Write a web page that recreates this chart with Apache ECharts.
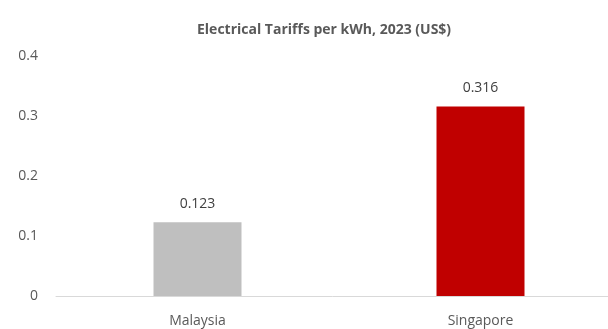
<!DOCTYPE html>
<html>
<head>
<meta charset="utf-8">
<script src="https://cdn.jsdelivr.net/npm/echarts@6/dist/echarts.min.js"></script>
<style>
  html, body { margin: 0; padding: 0; background: #fff; }
  #main { width: 608px; height: 329px; }
</style>
</head>
<body>
<div id="main"></div>
<script>
var countries = ['Malaysia', 'Singapore'];
var tariffs = [0.123, 0.316];
var barColors = ['#BFBFBF', '#C00000'];

var myChart = echarts.init(document.getElementById('main'));

myChart.setOption({
    animation: false,
    title: {
        text: 'Electrical Tariffs per kWh, 2023 (US$)',
        left: 192,
        top: 18,
        textStyle: {
            fontFamily: 'Open Sans',
            fontSize: 14,
            fontWeight: 'bold',
            color: '#595959'
        }
    },
    grid: {
        left: 56,
        width: 566,
        top: 56,
        bottom: 33,
        outerBoundsMode: 'none',   // let the axis run past the right edge
        containLabel: false
    },
    xAxis: {
        type: 'category',
        data: countries,
        axisLine: { lineStyle: { color: '#D9D9D9', width: 1 } },
        axisTick: { show: false },
        axisLabel: {
            margin: 18,
            fontFamily: 'Open Sans',
            fontSize: 14,
            color: '#595959'
        }
    },
    yAxis: {
        type: 'value',
        min: 0,
        max: 0.4,
        interval: 0.1,
        splitLine: { show: false },
        axisLine: { show: false },
        axisTick: { show: false },
        axisLabel: {
            margin: 18,
            fontFamily: 'Open Sans',
            fontSize: 14,
            color: '#595959'
        }
    },
    series: [
        {
            type: 'bar',
            barWidth: 88,
            data: tariffs.map(function (v, i) {
                return { value: v, itemStyle: { color: barColors[i] } };
            }),
            label: {
                show: true,
                position: 'top',
                distance: 11,
                fontFamily: 'Open Sans',
                fontSize: 14,
                color: '#404040'
            }
        }
    ]
});
</script>
</body>
</html>
